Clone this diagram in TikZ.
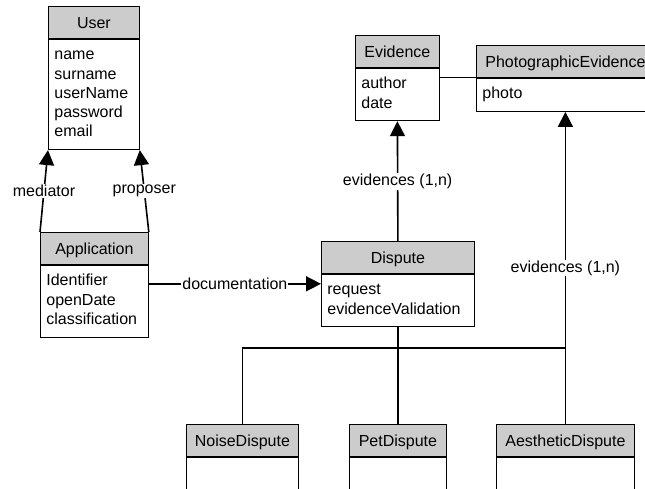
\documentclass[tikz,border=0pt]{standalone}
\usepackage{fontspec}
\setmainfont{Liberation Sans}
\usetikzlibrary{arrows.meta,positioning}

\begin{document}
\begin{tikzpicture}[%
    x=1pt, y=-1pt,
    >={Triangle[width=15pt,length=15pt]},
    node distance=0pt,
    font=\fontsize{16}{19.3}\selectfont,
    head/.style={draw, fill=black!20, line width=0.8pt, minimum width=#1,
      minimum height=32pt, anchor=north west, text height=11.5pt, text depth=0pt},
    attrs/.style={draw, fill=white, line width=0.8pt, text width=#1,
      inner xsep=6pt, inner ysep=7pt, align=left,
      execute at begin node=\strut, execute at end node=\strut},
    lbl/.style={fill=white, inner sep=1pt},
    link/.style={line width=1.6pt}
  ]
    \clip (0,0) rectangle (645,488);

    % classes
    \node[head=91pt] (user) at (48,6) {User};
    \node[attrs=79pt, below=of user] (user-attr) {name\\surname\\userName\\password\\email};

    \node[head=108pt] (app) at (40,232) {Application};
    \node[attrs=96pt, below=of app] (app-attr) {Identifier\\openDate\\classification};

    \node[head=84pt] (evid) at (355,35) {Evidence};
    \node[attrs=72pt, below=of evid] (evid-attr) {author\\date};

    \node[head=178pt] (photo) at (476,45) {PhotographicEvidence};
    \node[attrs=166pt, below=of photo] (photo-attr) {photo};

    \node[head=153pt] (dispute) at (321,241) {Dispute};
    \node[attrs=141pt, below=of dispute] (dispute-attr) {request\\evidenceValidation};

    \node[head=112pt] (noise) at (186,424) {NoiseDispute};
    \node[attrs=100pt, minimum height=50pt, below=of noise] (noise-attr) {};

    \node[head=97pt] (pet) at (349,424) {PetDispute};
    \node[attrs=85pt, minimum height=50pt, below=of pet] (pet-attr) {};

    \node[head=138pt] (aesthetic) at (496,424) {AestheticDispute};
    \node[attrs=126pt, minimum height=50pt, below=of aesthetic] (aesthetic-attr) {};

    % associations
    \path[->, link]
      (app.north west)  edge node[lbl] {mediator} (user-attr.south west)
      (app.north east)  edge node[lbl] {proposer} (user-attr.south east)
      (dispute.north)   edge node[lbl] {evidences (1,n)} (evid-attr.south)
      (aesthetic.north) edge node[lbl] {evidences (1,n)} (photo-attr.south);

    \coordinate (doc) at ([yshift=-19pt]app-attr.north east);
    \draw[->, link] (doc) -- node[lbl] {documentation} (doc -| dispute-attr.west);

    \draw[line width=1pt] (photo.south west) -- (photo.south west -| evid-attr.east);

    % subclasses
    \coordinate (hub) at ([yshift=-21pt]dispute-attr.south);
    \draw[link] (noise.north) |- (hub) -| (aesthetic.north);
    \draw[link] (dispute-attr.south) -- (pet.north);
\end{tikzpicture}
\end{document}
